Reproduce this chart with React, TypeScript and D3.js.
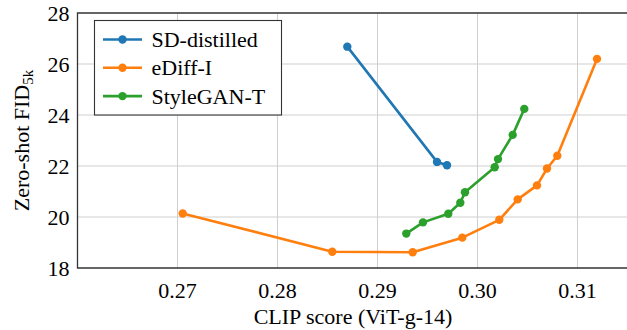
import * as d3 from 'd3';

const sdX = [0.28698, 0.29595, 0.29695];
const sdY = [26.68, 22.16, 22.03];

const ediffX = [0.27052, 0.28548, 0.29352, 0.29848, 0.30218, 0.30402, 0.30595, 0.30695, 0.30798, 0.31195];
const ediffY = [20.14, 18.64, 18.62, 19.19, 19.89, 20.69, 21.24, 21.9, 22.4, 26.2];

const styleX = [0.29288, 0.29455, 0.29708, 0.29828, 0.29875, 0.30172, 0.30205, 0.30352, 0.30468];
const styleY = [19.35, 19.79, 20.13, 20.56, 20.97, 21.95, 22.27, 23.22, 24.24];

const xTicks = [0.27, 0.28, 0.29, 0.30, 0.31];
const yTicks = [18, 20, 22, 24, 26, 28];

const series = [
  { name: 'SD-distilled', xs: sdX, ys: sdY, color: '#1f77b4' },
  { name: 'eDiff-I', xs: ediffX, ys: ediffY, color: '#ff7f0e' },
  { name: 'StyleGAN-T', xs: styleX, ys: styleY, color: '#2ca02c' },
];

export default function App() {
  const w = 627, h = 330;
  const l = 77.5, r = 627.5, t = 13, b = 268;
  const ff = 'Liberation Serif';
  const fs = 22;

  const x = d3.scaleLinear().domain([0.26, 0.315]).range([l, r]);
  const y = d3.scaleLinear().domain([18, 28]).range([b, t]);
  const line = d3.line<[number, number]>().x(d => x(d[0])).y(d => y(d[1]));

  return (
    <svg width={w} height={h} style={{ position: 'absolute', left: 0, top: 0 }}>
      {/* grid */}
      {xTicks.map(v => (
        <line key={'gx' + v} x1={x(v)} x2={x(v)} y1={t} y2={b} stroke="#cfcfcf" strokeWidth={1} />
      ))}
      {yTicks.slice(1, -1).map(v => (
        <line key={'gy' + v} x1={l} x2={r} y1={y(v)} y2={y(v)} stroke="#cfcfcf" strokeWidth={1} />
      ))}
      {/* frame */}
      <path d={`M${r},${t}H${l}V${b}H${r}`} fill="none" stroke="#333" strokeWidth={1.3} />

      {/* tick labels */}
      {xTicks.map(v => (
        <text key={'tx' + v} x={x(v)} y={b + 30} textAnchor="middle" fontFamily={ff} fontSize={fs}>
          {d3.format('.2f')(v)}
        </text>
      ))}
      {yTicks.map(v => (
        <text key={'ty' + v} x={l - 8} y={y(v) + 7.5} textAnchor="end" fontFamily={ff} fontSize={fs}>
          {v}
        </text>
      ))}

      {/* axis labels */}
      <text x={353} y={324} textAnchor="middle" fontFamily={ff} fontSize={fs}>CLIP score (ViT-g-14)</text>
      <text transform={`translate(29,${(t + b) / 2}) rotate(-90)`} textAnchor="middle" fontFamily={ff} fontSize={fs}>
        <tspan>Zero-shot FID</tspan>
        <tspan fontSize={15} dy={4}>5k</tspan>
      </text>

      {/* series */}
      {series.map(s => {
        const pts = s.xs.map((v, i) => [v, s.ys[i]] as [number, number]);
        return (
          <g key={s.name}>
            <path d={line(pts) || ''} fill="none" stroke={s.color} strokeWidth={2.6} strokeLinejoin="round" />
            {pts.map((p, i) => (
              <circle key={i} cx={x(p[0])} cy={y(p[1])} r={4.2} fill={s.color} />
            ))}
          </g>
        );
      })}

      {/* legend */}
      <rect x={94.5} y={20.5} width={187} height={94.5} fill="#fff" stroke="#333" strokeWidth={1.1} />
      {series.map((s, i) => {
        const cy = 39.5 + i * 28.3;
        return (
          <g key={'lg' + s.name}>
            <line x1={103} x2={142} y1={cy} y2={cy} stroke={s.color} strokeWidth={2.6} />
            <circle cx={122.5} cy={cy} r={4.2} fill={s.color} />
            <text x={151.5} y={cy + 7.5} fontFamily={ff} fontSize={fs}>{s.name}</text>
          </g>
        );
      })}
    </svg>
  );
}
